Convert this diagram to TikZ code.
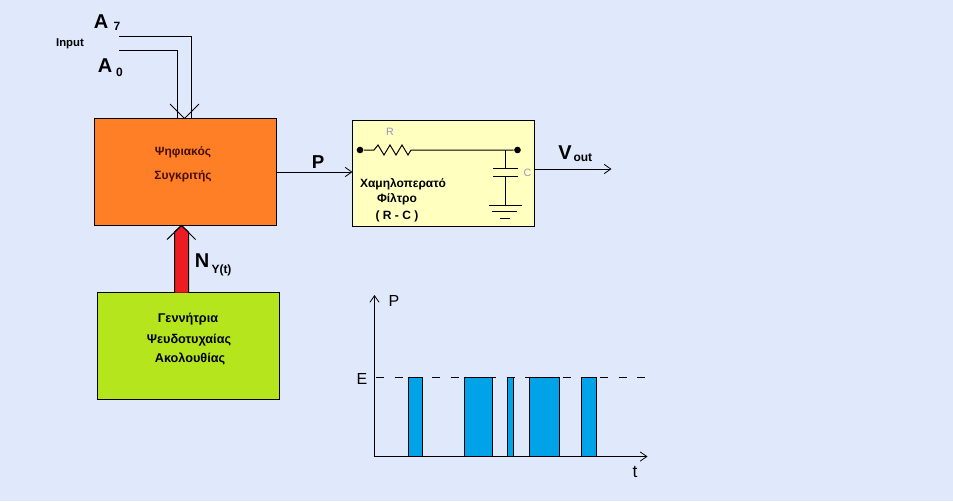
\documentclass[tikz,border=0pt]{standalone}
\usepackage{fontspec}
\setmainfont{Liberation Sans}
\usetikzlibrary{arrows.meta}
\definecolor{bgblue}{RGB}{223,233,251}
\definecolor{cmporange}{RGB}{255,127,39}
\definecolor{gengreen}{RGB}{181,230,29}
\definecolor{fltyellow}{RGB}{255,255,192}
\definecolor{busred}{RGB}{237,28,36}
\definecolor{pulseblue}{RGB}{0,162,232}
\definecolor{partgrey}{RGB}{150,150,185}
\definecolor{cmptext}{RGB}{70,15,10}
\tikzset{every picture/.style={line width=0.75pt}}
\tikzset{
  blockbox/.style={draw,inner sep=0pt,outer sep=0pt,anchor=north west},
  boxtext/.style={inner sep=0.75pt,font=\fontsize{9}{10}\bfseries\selectfont},
  biglabel/.style={inner sep=0pt,font=\fontsize{15}{16}\bfseries\selectfont},
  sublabel/.style={inner sep=0pt,font=\fontsize{9}{10}\bfseries\selectfont},
  plotlabel/.style={inner sep=0pt,font=\fontsize{12}{13}\selectfont},
  partlabel/.style={inner sep=0pt,text=partgrey,font=\fontsize{8}{9}\selectfont},
  openhead/.style={-{Straight Barb[length=5pt,width=7pt,line width=0.6pt]}},
  pulsebar/.style={draw,fill=pulseblue},
  termdot/.style={circle,fill=black,inner sep=0pt,minimum size=5pt}
}
\begin{document}
\begin{tikzpicture}[x=0.75pt,y=0.75pt,yscale=-1,xscale=1]
\fill [bgblue] (0,0) rectangle (953,501);
\useasboundingbox (0,0) rectangle (953,501);

%Shape: Rectangle
\node (cmp) [blockbox,fill=cmporange,minimum width=136.5pt,minimum height=80.25pt] at (94.5,118.5) {};
%Shape: Rectangle
\node (gen) [blockbox,fill=gengreen,minimum width=136.5pt,minimum height=80.25pt] at (97.5,292.5) {};
%Shape: Rectangle
\node (flt) [blockbox,fill=fltyellow,minimum width=136.5pt,minimum height=79.5pt] at (352.5,120.5) {};

%Straight Lines
\coordinate (a7end) at (119,36);
\coordinate (a0end) at (119,50);
\coordinate (bustip) at (184.5,118.5);
\draw (a7end) -- (191.5,36) -- (191.5,118);
\draw (a0end) -- (177.5,50) -- (177.5,118);
\draw (170,104) -- (bustip) -- (199,104);

%Shape: Polygon
\draw [fill=busred] (174.5,292.5) -- (174.5,232) -- (181.5,225.5) -- (188.5,232) -- (188.5,292.5);
\draw (167,239.5) -- (181.5,225.5) -- (195.5,239.5);

%Straight Lines
\draw [openhead] (cmp.east) -- (cmp.east -| flt.west);
\coordinate (outend) at (611.5,169);
\draw [openhead] (outend -| flt.east) -- (outend);

%Circuit
\node (rdot) [termdot] at (360,150) {};
\node (cdot) [termdot] at (517.5,150) {};
\coordinate (capjoin) at (505.5,150);
\draw (rdot) -- (374,150) -- (378,145) -- (384,155) -- (390,145) -- (396,155) -- (402,145) -- (408,155) -- (411,150) -- (cdot);
\draw (capjoin) -- (505.5,168.5);
\draw (493,168.5) -- (518,168.5);
\draw (493,176) -- (518,176);
\draw (505.5,176) -- (505.5,205);
\draw (488.5,205) -- (522,205);
\draw (492,211.5) -- (517,211.5);
\draw (500,218) -- (510,218);

%Plot axes
\coordinate (origin) at (374.5,456.5);
\draw [openhead] (origin) -- (374.5,295);
\draw [openhead] (origin) -- (647.5,456.5);
\draw [dash pattern=on 6pt off 8pt] (376,377.5) -- (645,377.5);
\draw [pulsebar] (408.5,456.5) rectangle (422.5,377.5);
\draw [pulsebar] (464.5,456.5) rectangle (492.5,377.5);
\draw [pulsebar] (507.5,456.5) rectangle (513.5,377.5);
\draw [pulsebar] (529.5,456.5) rectangle (559.5,377.5);
\draw [pulsebar] (581.5,456.5) rectangle (596.5,377.5);

% Text Node
\draw (183,152) node (cmpa) [boxtext,text=cmptext] {Ψηφιακός};
% Text Node
\draw (183,176) node (cmpb) [boxtext,text=cmptext] {Συγκριτής};
% Text Node
\draw (188,319) node (gena) [boxtext,font=\fontsize{9.5}{10}\bfseries\selectfont] {Γεννήτρια};
% Text Node
\draw (189,340) node (genb) [boxtext,font=\fontsize{9.5}{10}\bfseries\selectfont] {Ψευδοτυχαίας};
% Text Node
\draw (190,359) node (genc) [boxtext,font=\fontsize{9.5}{10}\bfseries\selectfont] {Ακολουθίας};
% Text Node
\draw (403,184) node (flta) [boxtext] {Χαμηλοπερατό};
% Text Node
\draw (397,199) node (fltb) [boxtext] {Φίλτρο};
% Text Node
\draw (397,216) node (fltc) [boxtext] {( R - C )};
% Text Node
\draw (70,44) node (inp) [inner sep=0pt,font=\fontsize{8.5}{9}\bfseries\selectfont] {Input};
% Text Node
\draw (101,21.5) node (asev) [biglabel] {A};
% Text Node
\draw (117,26.5) node (asevsub) [sublabel] {7};
% Text Node
\draw (105,66) node (azer) [biglabel] {A};
% Text Node
\draw (119.5,72) node (azersub) [sublabel] {0};
% Text Node
\draw (318,162) node (plab) [biglabel,font=\fontsize{14}{15}\bfseries\selectfont] {P};
% Text Node
\draw (565,153) node (vlab) [biglabel] {V};
% Text Node
\draw (573,158) node (vsub) [sublabel,anchor=west] {out};
% Text Node
\draw (202,260.5) node (nlab) [biglabel] {N};
% Text Node
\draw (211,270) node (nsub) [sublabel,anchor=west] {Y(t)};
% Text Node
\draw (390,132) node (rlab) [partlabel] {R};
% Text Node
\draw (527.5,173) node (clab) [partlabel] {C};
% Text Node
\draw (394,301) node (pax) [plotlabel] {P};
% Text Node
\draw (362,378.5) node (eax) [plotlabel] {E};
% Text Node
\draw (635,472) node (tax) [plotlabel,font=\fontsize{13}{14}\selectfont] {t};
\end{tikzpicture}
\end{document}
